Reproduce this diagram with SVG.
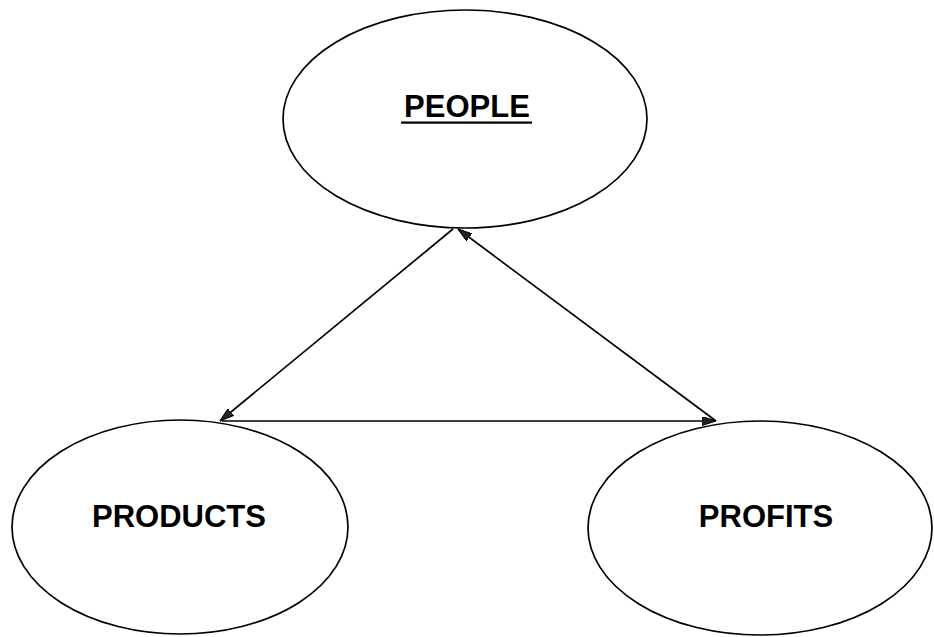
<svg xmlns="http://www.w3.org/2000/svg" width="934" height="637" viewBox="0 0 934 637">
<style>
.node{fill:#fff;stroke:#000;stroke-width:1.7}
.lbl{font-family:"Liberation Sans",Arial,sans-serif;font-weight:bold;font-size:31px;fill:#000;text-anchor:middle}
.conn{stroke:#000;stroke-width:1.7;fill:none;marker-end:url(#ah)}
</style>
<defs>
<marker id="ah" viewBox="0 0 14 9" refX="14" refY="4.5" markerWidth="14" markerHeight="9" markerUnits="userSpaceOnUse" orient="auto">
<path d="M0,0 L14,4.5 L0,9 Z" fill="#222" stroke="#000" stroke-width="1"/>
</marker>
</defs>
<rect width="934" height="637" fill="#fff"/>
<g id="people">
<ellipse class="node" cx="465" cy="119" rx="182" ry="109"/>
<text class="lbl" x="467" y="117">PEOPLE</text>
<rect x="401" y="121.5" width="131" height="2.2" fill="#000"/>
</g>
<g id="products">
<ellipse class="node" cx="180" cy="527" rx="168" ry="107"/>
<text class="lbl" x="179" y="527">PRODUCTS</text>
</g>
<g id="profits">
<ellipse class="node" cx="760" cy="528" rx="172" ry="107"/>
<text class="lbl" x="766" y="527">PROFITS</text>
</g>
<g id="connectors">
<line class="conn" x1="453" y1="229" x2="220" y2="421"/>
<line class="conn" x1="716" y1="421" x2="458" y2="229"/>
<line class="conn" x1="222" y1="421" x2="716" y2="421"/>
</g>
</svg>
